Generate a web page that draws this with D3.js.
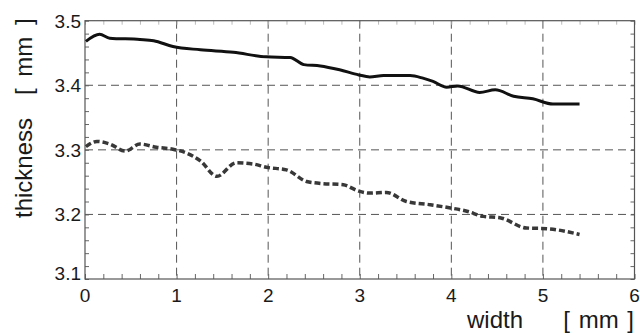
<!DOCTYPE html>
<html>
<head>
<meta charset="utf-8">
<script src="https://cdn.jsdelivr.net/npm/d3@7"></script>
<style>
  body { margin: 0; background: #fff; }
  text { font-family: "Liberation Sans", Arial, sans-serif; fill: #1a1a1a; }
</style>
</head>
<body>
<svg id="chart" width="640" height="333"></svg>
<script>
// data (width in mm, thickness in mm)
var upperWidth = [0.01, 0.16, 0.27, 0.60, 0.75, 0.96, 1.26, 1.62, 1.98, 2.24, 2.39, 2.57, 2.78, 2.99, 3.11, 3.26, 3.55, 3.69, 3.80, 3.95, 4.07, 4.31, 4.48, 4.68, 4.89, 5.11, 5.40];
var upperThick = [3.468, 3.479, 3.473, 3.471, 3.469, 3.460, 3.455, 3.451, 3.444, 3.443, 3.432, 3.430, 3.424, 3.416, 3.413, 3.415, 3.415, 3.411, 3.406, 3.397, 3.399, 3.389, 3.393, 3.383, 3.379, 3.371, 3.371];

var lowerWidth = [0.01, 0.13, 0.27, 0.44, 0.60, 0.78, 0.96, 1.11, 1.26, 1.44, 1.65, 1.84, 1.98, 2.20, 2.42, 2.57, 2.82, 2.99, 3.11, 3.29, 3.51, 3.77, 3.99, 4.17, 4.35, 4.53, 4.82, 5.04, 5.40];
var lowerThick = [3.305, 3.313, 3.309, 3.298, 3.309, 3.304, 3.301, 3.295, 3.283, 3.259, 3.280, 3.278, 3.273, 3.269, 3.251, 3.248, 3.246, 3.236, 3.233, 3.234, 3.220, 3.215, 3.210, 3.205, 3.197, 3.195, 3.179, 3.178, 3.169];

var xTicks = [0, 1, 2, 3, 4, 5, 6];
var yTicks = [3.1, 3.2, 3.3, 3.4, 3.5];

var svg = d3.select("#chart");
var plotL = 85, plotR = 634.5, plotT = 20.7, plotB = 279;

var x = d3.scaleLinear().domain([0, 6]).range([plotL, plotR]);
var y = d3.scaleLinear().domain([3.1, 3.5]).range([plotB, plotT]);

// dashed grid
var grid = svg.append("g").attr("stroke", "#555").attr("stroke-width", 1).attr("stroke-dasharray", "8,5");
grid.selectAll("line.gx").data(xTicks.slice(1, -1)).enter().append("line")
    .attr("x1", d => x(d)).attr("x2", d => x(d)).attr("y1", plotT).attr("y2", plotB);
grid.selectAll("line.gy").data(yTicks.slice(1, -1)).enter().append("line")
    .attr("y1", d => y(d)).attr("y2", d => y(d)).attr("x1", plotL).attr("x2", plotR);

// minor ticks on every side, pointing inward
var xMinor = d3.range(0, 6.001, 0.2);
var yMinor = d3.range(3.1, 3.5001, 0.02);
function ticks(g) { g.select(".domain").remove(); g.selectAll("line").attr("stroke", "#666"); g.selectAll("text").remove(); }
svg.append("g").attr("transform", "translate(0," + plotB + ")")
    .call(d3.axisBottom(x).tickValues(xMinor).tickSize(-5)).call(ticks);
svg.append("g").attr("transform", "translate(0," + plotT + ")")
    .call(d3.axisTop(x).tickValues(xMinor).tickSize(-4)).call(ticks)
    .selectAll("line").attr("stroke", "#bbb");
svg.append("g").attr("transform", "translate(" + plotL + ",0)")
    .call(d3.axisLeft(y).tickValues(yMinor).tickSize(-4)).call(ticks);
svg.append("g").attr("transform", "translate(" + plotR + ",0)")
    .call(d3.axisRight(y).tickValues(yMinor).tickSize(-4)).call(ticks);

// frame
svg.append("rect").attr("x", plotL).attr("y", plotT).attr("width", plotR - plotL).attr("height", plotB - plotT)
    .attr("fill", "none").attr("stroke", "#555").attr("stroke-width", 1.2);

// tick labels
svg.append("g").selectAll("text").data(xTicks).enter().append("text")
    .attr("x", d => x(d)).attr("y", 302).attr("text-anchor", "middle")
    .style("font-size", "19px").text(d => d);
svg.append("g").selectAll("text").data(yTicks).enter().append("text")
    .attr("x", 81).attr("y", d => y(d) + (d === 3.1 ? 1 : 7)).attr("text-anchor", "end")
    .style("font-size", "19px").text(d => d.toFixed(1));

// axis titles
svg.append("text").attr("x", 467).attr("y", 328).style("font-size", "24px").text("width");
svg.append("text").attr("x", 634).attr("y", 328).attr("text-anchor", "end")
    .style("font-size", "24px").style("word-spacing", "2px").text("[ mm ]");
svg.append("g").attr("transform", "translate(32,218) rotate(-90)")
    .append("text").style("font-size", "24px").text("thickness");
svg.append("g").attr("transform", "translate(32,95) rotate(-90)")
    .append("text").style("font-size", "24px").style("word-spacing", "5px").text("[ mm ]");

// curves
var line = d3.line().curve(d3.curveMonotoneX).x(d => x(d[0])).y(d => y(d[1]));
svg.append("path").datum(d3.zip(upperWidth, upperThick))
    .attr("d", line).attr("fill", "none").attr("stroke", "#111").attr("stroke-width", 3);
svg.append("path").datum(d3.zip(lowerWidth, lowerThick))
    .attr("d", line).attr("fill", "none").attr("stroke", "#383838").attr("stroke-width", 3.5)
    .attr("stroke-dasharray", "6,3");
</script>
</body>
</html>
